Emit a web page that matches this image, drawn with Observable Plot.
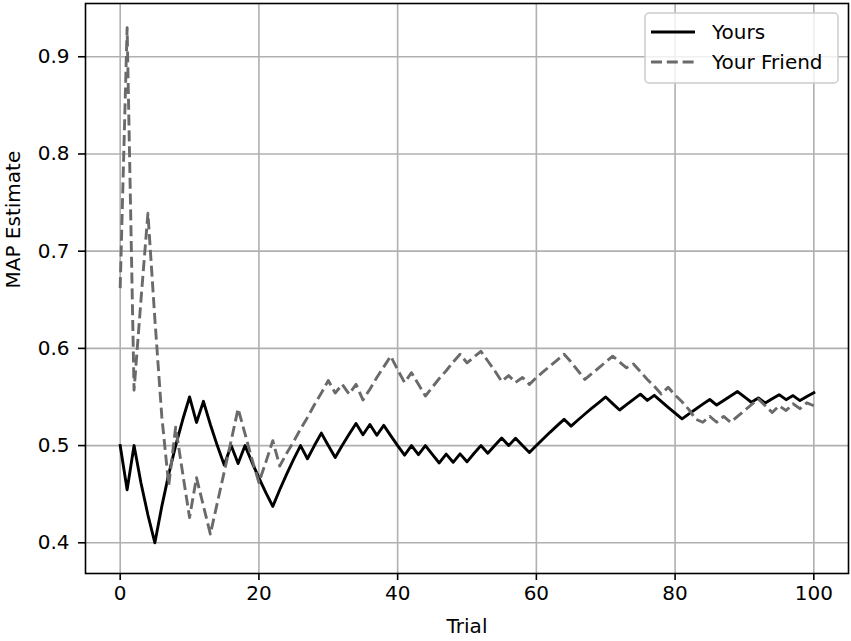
<!DOCTYPE html>
<html>
<head>
<meta charset="utf-8">
<script src="https://cdn.jsdelivr.net/npm/d3@7"></script>
<script src="https://cdn.jsdelivr.net/npm/@observablehq/plot@0.6"></script>
<style>
  body { margin: 0; background: #fff; }
  #chart { position: relative; width: 851px; height: 641px; }
</style>
</head>
<body>
<div id="chart"></div>
<script>
// ---- data ----
const yours = [
  0.5000, 0.4545, 0.5000, 0.4615, 0.4286, 0.4000, 0.4375, 0.4706, 0.5000, 0.5263,
  0.5500, 0.5238, 0.5455, 0.5217, 0.5000, 0.4800, 0.5000, 0.4815, 0.5000, 0.4828,
  0.4667, 0.4516, 0.4375, 0.4545, 0.4706, 0.4857, 0.5000, 0.4865, 0.5000, 0.5128,
  0.5000, 0.4878, 0.5000, 0.5116, 0.5227, 0.5111, 0.5217, 0.5106, 0.5208, 0.5102,
  0.5000, 0.4902, 0.5000, 0.4906, 0.5000, 0.4909, 0.4821, 0.4912, 0.4828, 0.4915,
  0.4833, 0.4918, 0.5000, 0.4921, 0.5000, 0.5077, 0.5000, 0.5075, 0.5000, 0.4928,
  0.5000, 0.5070, 0.5139, 0.5205, 0.5270, 0.5200, 0.5263, 0.5325, 0.5385, 0.5443,
  0.5500, 0.5432, 0.5366, 0.5422, 0.5476, 0.5529, 0.5465, 0.5517, 0.5455, 0.5393,
  0.5333, 0.5275, 0.5326, 0.5376, 0.5426, 0.5474, 0.5417, 0.5464, 0.5510, 0.5556,
  0.5500, 0.5446, 0.5490, 0.5437, 0.5481, 0.5524, 0.5472, 0.5514, 0.5463, 0.5505,
  0.5545
];
const friend = [
  0.662, 0.930, 0.557, 0.650, 0.739, 0.630, 0.530, 0.459, 0.519, 0.472,
  0.426, 0.467, 0.438, 0.409, 0.441, 0.473, 0.505, 0.538, 0.512, 0.486,
  0.462, 0.483, 0.505, 0.479, 0.492, 0.504, 0.517, 0.529, 0.542, 0.554,
  0.567, 0.554, 0.563, 0.553, 0.563, 0.547, 0.558, 0.570, 0.581, 0.592,
  0.578, 0.565, 0.575, 0.563, 0.551, 0.560, 0.569, 0.577, 0.586, 0.594,
  0.585, 0.591, 0.597, 0.587, 0.577, 0.566, 0.572, 0.565, 0.570, 0.563,
  0.570, 0.576, 0.582, 0.588, 0.594, 0.586, 0.577, 0.568, 0.574, 0.580,
  0.586, 0.592, 0.586, 0.580, 0.584, 0.576, 0.568, 0.561, 0.553, 0.560,
  0.552, 0.545, 0.537, 0.527, 0.524, 0.530, 0.524, 0.530, 0.524, 0.530,
  0.536, 0.542, 0.548, 0.541, 0.534, 0.541, 0.536, 0.543, 0.538, 0.544,
  0.541
];
const xTicks = [0, 20, 40, 60, 80, 100];
const yTicks = [0.4, 0.5, 0.6, 0.7, 0.8, 0.9];
const seriesNames = ["Yours", "Your Friend"];
const xLabel = "Trial";
const yLabel = "MAP Estimate";

// ---- build table ----
const data = yours.map((v, i) => ({ trial: i, yours: v, friend: friend[i] }));

const font = "'DejaVu Sans', sans-serif";
const fs = 20;
const lineW = 2.9;
const gridW = 1.6;
const friendColor = "#6a6a6a";
const dash = "11,4.8";

const plot = Plot.plot({
  width: 851,
  height: 641,
  marginLeft: 85,
  marginRight: 3,
  marginTop: 3,
  marginBottom: 68,
  style: { fontFamily: font, fontSize: fs + "px", color: "black", background: "white" },
  x: { domain: [-5, 105] },
  y: { domain: [0.3684, 0.9548] },
  marks: [
    Plot.gridX(xTicks, { stroke: "#b0b0b0", strokeOpacity: 1, strokeWidth: gridW }),
    Plot.gridY(yTicks, { stroke: "#b0b0b0", strokeOpacity: 1, strokeWidth: gridW }),
    Plot.line(data, { x: "trial", y: "yours", stroke: "black", strokeWidth: lineW, strokeLinejoin: "round", strokeLinecap: "square" }),
    Plot.line(data, { x: "trial", y: "friend", stroke: friendColor, strokeWidth: lineW, strokeDasharray: dash, strokeLinejoin: "round", strokeLinecap: "butt" }),
    Plot.frame({ stroke: "black", strokeWidth: gridW }),
    Plot.axisX(xTicks, { tickSize: 7, tickPadding: 5, strokeWidth: gridW, label: null, fontSize: fs, tickFormat: d => String(d) }),
    Plot.axisY(yTicks, { tickSize: 7, tickPadding: 9, strokeWidth: gridW, label: null, fontSize: fs, tickFormat: d => d.toFixed(1) }),
    Plot.text([xLabel], { text: d => d, frameAnchor: "bottom", dy: 59, fontSize: fs, fill: "black" }),
    Plot.text([yLabel], { text: d => d, frameAnchor: "left", dx: -72, rotate: -90, fontSize: fs, fill: "black" })
  ]
});

// ---- legend (inside the axes, upper right) ----
const svg = d3.select(plot);
const lg = svg.append("g")
  .attr("font-family", font).attr("font-size", fs).attr("text-anchor", "start");
lg.append("rect")
  .attr("x", 645).attr("y", 13).attr("width", 193).attr("height", 70)
  .attr("rx", 4).attr("fill", "white").attr("fill-opacity", 0.8)
  .attr("stroke", "#cccccc").attr("stroke-width", 1.5);
const styles = [
  { stroke: "black", dash: null },
  { stroke: friendColor, dash: dash }
];
seriesNames.forEach((name, i) => {
  const cy = 32 + i * 30;
  const ln = lg.append("line")
    .attr("x1", 651).attr("x2", 695).attr("y1", cy).attr("y2", cy)
    .attr("stroke", styles[i].stroke).attr("stroke-width", lineW);
  if (styles[i].dash) ln.attr("stroke-dasharray", styles[i].dash);
  lg.append("text")
    .attr("x", 712).attr("y", cy).attr("dy", "0.35em")
    .attr("text-anchor", "start")
    .attr("fill", "black").text(name);
});

document.getElementById("chart").appendChild(plot);
</script>
</body>
</html>
